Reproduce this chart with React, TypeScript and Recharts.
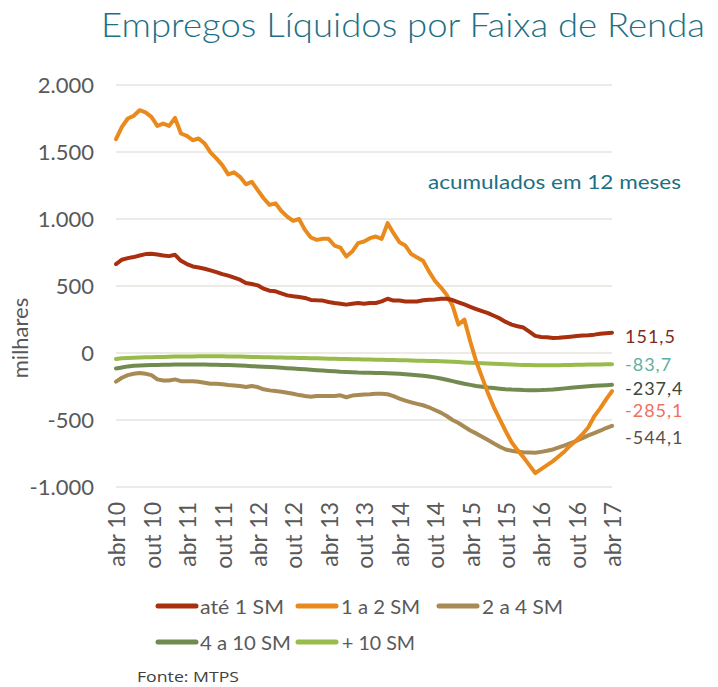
import { LineChart, Line, XAxis, YAxis, CartesianGrid, LabelList } from 'recharts';

const monthNames = ['jan', 'fev', 'mar', 'abr', 'mai', 'jun', 'jul', 'ago', 'set', 'out', 'nov', 'dez'];

// abr 10 .. abr 17, mensal
const meses = Array.from({ length: 85 }, (_, i) => {
  const m = (3 + i) % 12;
  const a = 10 + Math.floor((3 + i) / 12);
  return `${monthNames[m]} ${a}`;
});

const ate1 = [
  664, 696, 708, 716, 728, 738, 740, 735, 728, 723, 733, 688, 664, 646, 638, 629, 616, 604, 589, 577,
  562, 547, 522, 515, 505, 480, 465, 460, 445, 430, 423, 418, 411, 396, 393, 391, 381, 373, 368, 361,
  368, 373, 368, 373, 373, 385, 405, 391, 391, 385, 385, 385, 393, 398, 400, 405, 405, 395, 378, 362,
  345, 328, 312, 298, 278, 258, 232, 212, 200, 190, 160, 128, 120, 118, 112, 113, 118, 122, 126, 130,
  133, 137, 143, 147, 151.5,
];

const de1a2 = [
  1596, 1687, 1750, 1770, 1812, 1795, 1762, 1695, 1712, 1695, 1754, 1638, 1620, 1588, 1601, 1564, 1497, 1452, 1402, 1333,
  1348, 1315, 1259, 1278, 1216, 1155, 1105, 1117, 1060, 1018, 986, 1000, 919, 862, 844, 852, 852, 802, 787, 720,
  757, 820, 832, 857, 869, 852, 969, 894, 827, 802, 738, 713, 688, 609, 539, 490, 435, 353, 212, 249,
  86, -63, -182, -301, -405, -495, -584, -666, -725, -777, -837, -896, -866, -837, -807, -770, -733, -688, -651, -606,
  -554, -472, -413, -346, -285.1,
];

const de2a4 = [
  -214, -185, -165, -155, -150, -155, -165, -197, -205, -205, -197, -210, -210, -210, -214, -222, -229, -229, -234, -239,
  -242, -247, -254, -247, -254, -271, -279, -284, -289, -296, -304, -314, -321, -326, -321, -321, -321, -321, -316, -330,
  -318, -314, -310, -308, -305, -304, -308, -322, -340, -355, -368, -380, -390, -405, -425, -445, -470, -500, -522, -550,
  -578, -600, -625, -650, -675, -700, -720, -730, -737, -740, -742, -745, -738, -730, -720, -705, -690, -672, -655, -635,
  -615, -598, -580, -560, -544.1,
];

const de4a10 = [
  -115, -108, -100, -96, -93, -91, -90, -89, -88, -87, -86, -86, -86, -86, -86, -86, -87, -88, -89, -90,
  -92, -94, -96, -98, -100, -102, -104, -107, -110, -113, -116, -119, -122, -125, -128, -131, -134, -137, -140, -142,
  -144, -146, -147, -148, -149, -150, -151, -153, -155, -158, -162, -166, -170, -175, -182, -190, -200, -210, -220, -230,
  -238, -246, -252, -258, -262, -266, -270, -273, -275, -277, -278, -278, -277, -275, -272, -268, -264, -260, -256, -252,
  -248, -245, -242, -240, -237.4,
];

const acima10 = [
  -45, -40, -37, -35, -33, -32, -31, -30, -29, -28, -27, -27, -26, -26, -25, -25, -25, -25, -25, -26,
  -26, -27, -28, -29, -30, -31, -32, -33, -34, -35, -36, -37, -38, -39, -40, -41, -42, -43, -44, -45,
  -46, -47, -48, -49, -50, -51, -52, -53, -54, -55, -56, -57, -58, -59, -60, -62, -64, -66, -68, -70,
  -72, -74, -76, -78, -80, -82, -84, -86, -88, -89, -90, -91, -92, -92, -92, -91, -90, -89, -88, -87,
  -86, -85, -85, -84, -83.7,
];

const yTicks = [-1000, -500, 0, 500, 1000, 1500, 2000];

const series = [
  { key: 'ate1', name: 'até 1 SM', color: '#a8300f', labelColor: '#7b2a1c', dy: 3, values: ate1 },
  { key: 'de1a2', name: '1 a 2 SM', color: '#ea8a1c', labelColor: '#f0705c', dy: 19, values: de1a2 },
  { key: 'de2a4', name: '2 a 4 SM', color: '#a88a55', labelColor: '#5a5048', dy: 11, values: de2a4 },
  { key: 'de4a10', name: '4 a 10 SM', color: '#718a50', labelColor: '#3e4638', dy: 3, values: de4a10 },
  { key: 'acima10', name: '+ 10 SM', color: '#98bc4c', labelColor: '#62b0a0', dy: 0, values: acima10 },
];

const data = meses.map((mes, i) => {
  const row: Record<string, any> = { mes };
  series.forEach((s) => (row[s.key] = s.values[i]));
  return row;
});

const FONT = 'Lato, "DejaVu Sans", sans-serif';
const GRAY = '#595959';
const TEAL = '#1b7086';

const fmtMil = (v: number) => {
  const abs = Math.abs(v);
  const s = abs >= 1000 ? `${Math.floor(abs / 1000)}.${String(abs % 1000).padStart(3, '0')}` : String(abs);
  return v < 0 ? `-${s}` : s;
};

const fmtDec = (v: number) => v.toFixed(1).replace('.', ',');

const XTick = (props: any) => {
  const { x, y, payload } = props;
  return (
    <g transform={`translate(${x + 1},${y})`}>
      <text transform="rotate(-90)" textAnchor="end" dy="0.36em" fill={GRAY} fontSize={23} fontFamily={FONT}>
        {payload.value}
      </text>
    </g>
  );
};

const endLabel = (s: (typeof series)[number]) => (props: any) => {
  const { x, y, index, value } = props;
  if (index !== meses.length - 1) return null;
  return (
    <text
      x={x + 13}
      y={y + s.dy}
      dominantBaseline="central"
      fill={s.labelColor}
      fontSize={18}
      fontFamily={FONT}
      letterSpacing={1}
    >
      {fmtDec(value)}
    </text>
  );
};

const legendRows = [
  [
    { s: 0, x: 158, tx: 200, tl: 84 },
    { s: 1, x: 298, tx: 341, tl: 79 },
    { s: 2, x: 439, tx: 482, tl: 81 },
  ],
  [
    { s: 3, x: 158, tx: 200, tl: 91 },
    { s: 4, x: 298, tx: 342, tl: 73 },
  ],
];
const legendY = [606, 642];

export default function App() {
  return (
    <div style={{ position: 'absolute', left: 0, top: 0, width: 718, height: 687, background: '#fff' }}>
      <LineChart width={718} height={687} data={data} margin={{ top: 85, right: 106, bottom: 100, left: 0 }}>
        <CartesianGrid vertical={false} stroke="#e6e4de" strokeWidth={1.5} />
        <XAxis
          dataKey="mes"
          interval={5}
          axisLine={false}
          tickLine={false}
          tickSize={0}
          tickMargin={15}
          height={100}
          tick={<XTick />}
        />
        <YAxis
          domain={[-1000, 2000]}
          ticks={yTicks}
          tickFormatter={fmtMil}
          axisLine={false}
          tickLine={false}
          tickSize={0}
          tickMargin={22}
          width={116}
          tick={{ fill: GRAY, fontSize: 22, fontFamily: FONT }}
        />
        {[...series].reverse().map((s) => (
          <Line
            key={s.key}
            dataKey={s.key}
            name={s.name}
            stroke={s.color}
            strokeWidth={4}
            dot={false}
            strokeLinejoin="round"
            strokeLinecap="round"
            isAnimationActive={false}
          >
            <LabelList dataKey={s.key} content={endLabel(s)} />
          </Line>
        ))}
      </LineChart>
      <svg
        width={718}
        height={687}
        style={{ position: 'absolute', left: 0, top: 0, pointerEvents: 'none' }}
      >
        <text x={101} y={37} fill={TEAL} fontSize={33} fontFamily={FONT} fontWeight={300} textLength={604} lengthAdjust="spacingAndGlyphs">
          Empregos Líquidos por Faixa de Renda
        </text>
        <text x={428} y={189} fill={TEAL} fontSize={19} fontFamily={FONT} textLength={253} lengthAdjust="spacingAndGlyphs">
          acumulados em 12 meses
        </text>
        <text
          transform="translate(19,338) rotate(-90)"
          textAnchor="middle"
          dominantBaseline="central"
          fill={GRAY}
          fontSize={22}
          fontFamily={FONT}
        >
          milhares
        </text>
        {legendRows.map((row, r) =>
          row.map((it) => (
            <g key={`${r}-${it.s}`}>
              <line x1={it.x} x2={it.x + 38} y1={legendY[r]} y2={legendY[r]} stroke={series[it.s].color} strokeWidth={5} strokeLinecap="round" />
              <text
                x={it.tx}
                y={legendY[r]}
                dominantBaseline="central"
                fill={GRAY}
                fontSize={20}
                fontFamily={FONT}
                textLength={it.tl}
                lengthAdjust="spacingAndGlyphs"
              >
                {series[it.s].name}
              </text>
            </g>
          ))
        )}
        <text x={137} y={676} dominantBaseline="central" fill="#404040" fontSize={15} fontFamily={'"Open Sans", sans-serif'} textLength={102} lengthAdjust="spacingAndGlyphs">
          Fonte: MTPS
        </text>
      </svg>
    </div>
  );
}
